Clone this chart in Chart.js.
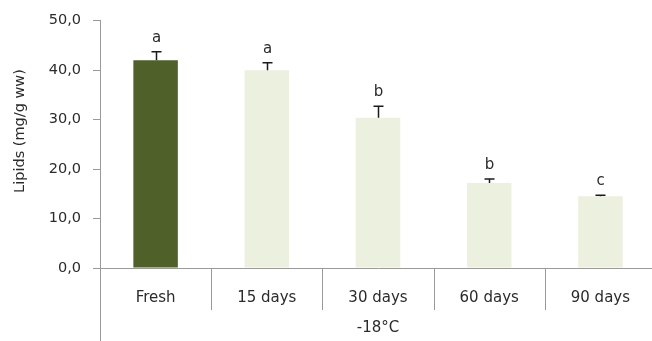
<!DOCTYPE html>
<html>
<head>
<meta charset="utf-8">
<script src="https://cdn.jsdelivr.net/npm/chart.js@4/dist/chart.umd.min.js"></script>
<style>
  html, body { margin: 0; padding: 0; background: #fff; overflow: hidden; }
  #wrap { width: 660px; height: 341px; }
</style>
</head>
<body>
<div id="wrap"><canvas id="c" width="660" height="341"></canvas></div>
<script>
// Lipid content of samples stored at -18°C
const categories = ['Fresh', '15 days', '30 days', '60 days', '90 days'];
const lipids = [42.0, 40.0, 30.4, 17.2, 14.5];
const errors = [1.7, 1.5, 2.3, 0.8, 0.2];
const letters = ['a', 'a', 'b', 'b', 'c'];
const yTicks = [0, 10, 20, 30, 40, 50];

const AXIS = '#9a9a9a';
const TEXT = '#2b2b2b';
const FONT = 'DejaVu Sans';

// Error bars, significance letters, axis title and the category separators
const extras = {
  id: 'extras',
  afterDatasetsDraw(chart) {
    const { ctx, scales: { x, y }, chartArea } = chart;
    ctx.save();
    // separators
    ctx.strokeStyle = AXIS;
    ctx.lineWidth = 1;
    const step = x.getPixelForValue(1) - x.getPixelForValue(0);
    for (let i = 1; i < categories.length; i++) {
      const px = Math.round(x.getPixelForValue(i) - step / 2) + 0.5;
      ctx.beginPath();
      ctx.moveTo(px, chartArea.bottom);
      ctx.lineTo(px, chartArea.bottom + 42);
      ctx.stroke();
    }
    // y axis continues down past the category rows
    const lx = Math.round(chartArea.left) + 0.5;
    ctx.beginPath();
    ctx.moveTo(lx, chartArea.bottom);
    ctx.lineTo(lx, chart.height);
    ctx.stroke();

    // error bars
    ctx.strokeStyle = '#1a1a1a';
    ctx.lineWidth = 1.5;
    lipids.forEach((v, i) => {
      const cx = Math.round(x.getPixelForValue(i)) + 0.5;
      const y0 = y.getPixelForValue(v);
      const y1 = y.getPixelForValue(v + errors[i]);
      ctx.beginPath();
      ctx.moveTo(cx, y0);
      ctx.lineTo(cx, y1);
      ctx.moveTo(cx - 5, y1);
      ctx.lineTo(cx + 5, y1);
      ctx.stroke();
      // letters
      ctx.fillStyle = TEXT;
      ctx.font = '15px "' + FONT + '"';
      ctx.textAlign = 'center';
      ctx.textBaseline = 'middle';
      ctx.fillText(letters[i], cx, y1 - 14);
    });

    // y axis title
    ctx.translate(20, 131);
    ctx.rotate(-Math.PI / 2);
    ctx.fillStyle = TEXT;
    ctx.font = '14.5px "' + FONT + '"';
    ctx.textAlign = 'center';
    ctx.textBaseline = 'middle';
    ctx.fillText('Lipids (mg/g ww)', 0, 0);
    ctx.restore();
  }
};

new Chart(document.getElementById('c'), {
  type: 'bar',
  data: {
    labels: categories,
    datasets: [{
      data: lipids,
      backgroundColor: ['#4f6128', '#ebf1de', '#ebf1de', '#ebf1de', '#ebf1de'],
      borderWidth: 0,
      categoryPercentage: 1,
      barPercentage: 0.4
    }]
  },
  options: {
    responsive: false,
    animation: false,
    events: [],
    layout: { padding: { top: 0, right: 4, bottom: 0, left: 0 } },
    plugins: { legend: { display: false }, tooltip: { enabled: false } },
    scales: {
      x: {
        grid: { display: false },
        border: { display: true, color: AXIS, width: 1 },
        ticks: { color: TEXT, font: { family: FONT, size: 15 }, padding: 13, maxRotation: 0 },
        title: { display: true, text: '-18°C', color: TEXT, font: { family: FONT, size: 15 }, padding: { top: 12 } },
        afterFit(s) { s.height = 73; }
      },
      y: {
        min: 0, max: 50,
        afterBuildTicks(s) { s.ticks = yTicks.map(v => ({ value: v })); },
        grid: { drawOnChartArea: false, color: AXIS, tickLength: 7 },
        border: { display: true, color: AXIS, width: 1 },
        ticks: {
          color: TEXT, font: { family: FONT, size: 14.5 }, padding: 12,
          callback: v => v.toFixed(1).replace('.', ',')
        },
        afterFit(s) { s.width = 100; }
      }
    }
  },
  plugins: [extras]
});
</script>
</body>
</html>
